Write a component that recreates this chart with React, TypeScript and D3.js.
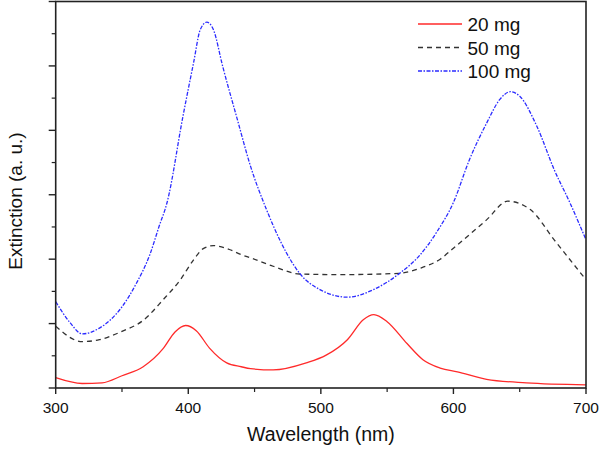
import React from "react";
import * as d3 from "d3";

const wl20 = [300, 320, 335, 350, 366, 381, 390, 398, 406, 416, 429, 440, 447, 464, 489, 504, 520, 532, 540, 550, 565, 577, 590, 603, 625, 655, 700];
const ext20 = [0.16, 0.07, 0.08, 0.19, 0.33, 0.61, 0.87, 0.97, 0.89, 0.62, 0.39, 0.33, 0.3, 0.28, 0.39, 0.51, 0.75, 1.06, 1.14, 1.03, 0.69, 0.44, 0.31, 0.25, 0.135, 0.08, 0.05];

const wl50 = [300, 320, 333, 350, 366, 381, 394, 404, 411, 419, 431, 440, 447, 464, 484, 514, 559, 575, 590, 600, 625, 641, 658, 676, 700];
const ext50 = [0.96, 0.72, 0.75, 0.88, 1.05, 1.37, 1.68, 1.99, 2.16, 2.21, 2.15, 2.07, 2.02, 1.89, 1.77, 1.76, 1.78, 1.86, 2.0, 2.17, 2.61, 2.9, 2.77, 2.3, 1.68];

const wl100 = [300, 311, 320, 333, 350, 361, 371, 378, 384, 396, 404, 409, 414, 419, 426, 437, 447, 459, 469, 474, 484, 500, 520, 540, 560, 575, 588, 600, 612, 625, 635, 643, 650, 663, 676, 688, 700];
const ext100 = [1.34, 1.01, 0.84, 0.93, 1.26, 1.63, 2.07, 2.51, 2.88, 4.22, 5.05, 5.56, 5.68, 5.56, 4.99, 4.17, 3.44, 2.77, 2.3, 2.1, 1.78, 1.52, 1.41, 1.53, 1.79, 2.07, 2.44, 2.88, 3.54, 4.11, 4.48, 4.6, 4.53, 4.06, 3.39, 2.87, 2.3];

const seriesNames = ["20 mg", "50 mg", "100 mg"];
const xTicks = [300, 400, 500, 600, 700];
const xMinorTicks = [350, 450, 550, 650];
const yMajorTicks = [0, 1, 2, 3, 4, 5, 6];
const yMinorTicks = [0.5, 1.5, 2.5, 3.5, 4.5, 5.5];

const W = 600;
const H = 451;
const L = 55.7, R = 586, T = 1.5, B = 388;
const font = "'Liberation Sans', Arial, sans-serif";

export default function App() {
  const x = d3.scaleLinear().domain([300, 700]).range([L, R]);
  const y = d3.scaleLinear().domain([0, 6]).range([B, T]);
  const line = d3
    .line<[number, number]>()
    .x((d) => x(d[0]))
    .y((d) => y(d[1]))
    .curve(d3.curveMonotoneX);

  const series = [
    { name: seriesNames[0], xs: wl20, ys: ext20, color: "#ff2a2a", dash: "none", width: 1.3 },
    { name: seriesNames[1], xs: wl50, ys: ext50, color: "#333333", dash: "5,4", width: 1.3 },
    { name: seriesNames[2], xs: wl100, ys: ext100, color: "#2b2bff", dash: "4,1.5,1.5,1.5", width: 1.3 },
  ];

  return (
    <svg width={W} height={H} style={{ position: "absolute", left: 0, top: 0, background: "#fff" }}>
      <rect x={0} y={0} width={W} height={H} fill="#fff" />
      {series.map((s) => (
        <path
          key={s.name}
          d={line(s.xs.map((v, i) => [v, s.ys[i]] as [number, number])) || ""}
          fill="none"
          stroke={s.color}
          strokeWidth={s.width}
          strokeDasharray={s.dash}
        />
      ))}
      <rect x={L} y={T} width={R - L} height={B - T} fill="none" stroke="#222" strokeWidth={1.6} />
      {xTicks.map((t) => (
        <g key={"xt" + t}>
          <line x1={x(t)} x2={x(t)} y1={B} y2={B + 6} stroke="#222" strokeWidth={1.4} />
          <text x={x(t)} y={413} textAnchor="middle" fontFamily={font} fontSize={15.5} fill="#111">
            {t}
          </text>
        </g>
      ))}
      {xMinorTicks.map((t) => (
        <line key={"xm" + t} x1={x(t)} x2={x(t)} y1={B} y2={B + 4} stroke="#222" strokeWidth={1.2} />
      ))}
      {yMajorTicks.map((t) => (
        <line key={"ym" + t} x1={L - 7} x2={L} y1={y(t)} y2={y(t)} stroke="#222" strokeWidth={1.4} />
      ))}
      {yMinorTicks.map((t) => (
        <line key={"yn" + t} x1={L - 4} x2={L} y1={y(t)} y2={y(t)} stroke="#222" strokeWidth={1.2} />
      ))}
      <text x={(L + R) / 2} y={441} textAnchor="middle" fontFamily={font} fontSize={19.5} fill="#111">
        Wavelength (nm)
      </text>
      <text
        transform={`translate(22,201) rotate(-90)`}
        textAnchor="middle"
        fontFamily={font}
        fontSize={19}
        fill="#111"
      >
        Extinction (a. u.)
      </text>
      {series.map((s, i) => {
        const ly = 24 + i * 23.5;
        return (
          <g key={"lg" + s.name}>
            <line x1={418} x2={462} y1={ly} y2={ly} stroke={s.color} strokeWidth={s.width} strokeDasharray={s.dash} />
            <text x={467.5} y={ly + 7} fontFamily={font} fontSize={19} fill="#111">
              {s.name}
            </text>
          </g>
        );
      })}
    </svg>
  );
}
